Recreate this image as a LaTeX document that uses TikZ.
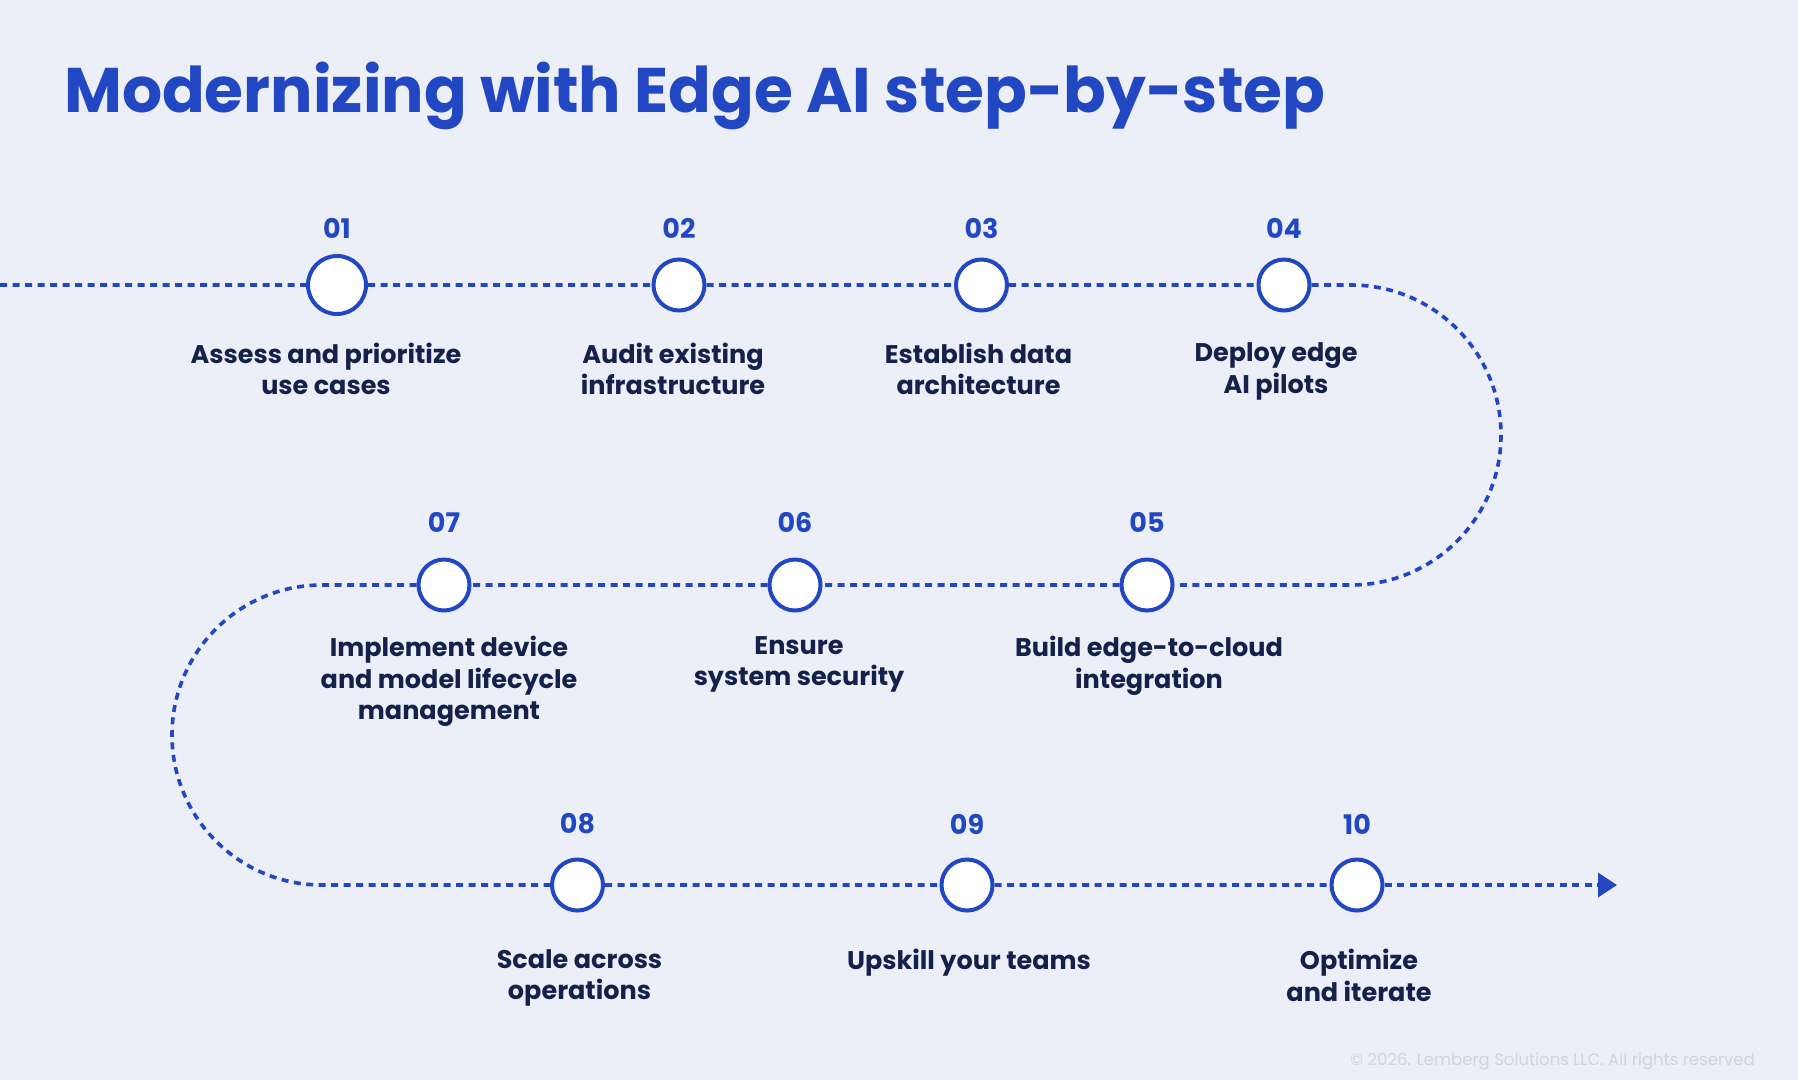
\documentclass[tikz,border=0pt]{standalone}
\usepackage{fontspec}
\setmainfont{Poppins}
\usetikzlibrary{positioning,arrows.meta}

\definecolor{pagebg}{HTML}{ECEEF8}
\definecolor{edgeblue}{HTML}{2247C2}
\definecolor{inkblue}{HTML}{14214B}
\definecolor{notegray}{HTML}{D0D3E0}

\tikzset{
  stepdot/.style={circle,draw=edgeblue,fill=white,line width=4pt,minimum size=51pt,inner sep=0pt},
  stepnum/.style={text=edgeblue,inner sep=0pt,font=\fontsize{27}{27}\selectfont\bfseries},
  steptext/.style={text=inkblue,inner sep=0pt,align=center,font=\fontsize{25.5}{31.5}\selectfont\bfseries},
  track/.style={draw=edgeblue,line width=3.6pt,dash pattern=on 7pt off 5.5pt},
}

\begin{document}
\begin{tikzpicture}[x=1pt,y=-1pt]
\fill[pagebg] (0,0) rectangle (1798,1080);
\useasboundingbox (0,0) rectangle (1798,1080);

% title
\node[anchor=base west,inner sep=0pt,text=edgeblue,font=\fontsize{63}{63}\selectfont\bfseries] (title) at (64,112.7) {Modernizing with Edge AI step-by-step};

% first row
\node[stepdot,minimum size=58pt] (c1) at (337,285) {};
\node[stepdot] (c2) at (679,285) {};
\node[stepdot] (c3) at (981.5,285) {};
\node[stepdot] (c4) at (1284,285) {};
\node[stepnum,above=15pt of c1] (n1) {01};
\node[stepnum,above=18.5pt of c2] (n2) {02};
\node[stepnum,above=18.5pt of c3] (n3) {03};
\node[stepnum,above=18.5pt of c4] (n4) {04};
\node[steptext,below=26.5pt of c1,xshift=-11pt] (t1) {Assess and prioritize\\use cases};
\node[steptext,below=30pt of c2,xshift=-6pt] (t2) {Audit existing\\infrastructure};
\node[steptext,below=30pt of c3,xshift=-3pt] (t3) {Establish data\\architecture};
\node[steptext,below=30pt of c4,xshift=-8pt] (t4) {Deploy edge\\AI pilots};

% second row
\node[stepdot] (c5) at (1147,585) {};
\node[stepdot] (c6) at (795,585) {};
\node[stepdot] (c7) at (444,585) {};
\node[stepnum,above=25pt of c5] (n5) {05};
\node[stepnum,above=25pt of c6] (n6) {06};
\node[stepnum,above=25pt of c7] (n7) {07};
\node[steptext,below=23.5pt of c5,xshift=2pt] (t5) {Build edge-to-cloud\\integration};
\node[steptext,below=23.5pt of c6,xshift=4pt] (t6) {Ensure\\system security};
\node[steptext,below=23.5pt of c7,xshift=5pt] (t7) {Implement device\\and model lifecycle\\management};

% third row
\node[stepdot] (c8) at (577.5,885) {};
\node[stepdot] (c9) at (967,885) {};
\node[stepdot] (c10) at (1357,885) {};
\node[stepnum,above=23pt of c8] (n8) {08};
\node[stepnum,above=23pt of c9] (n9) {09};
\node[stepnum,above=23pt of c10] (n10) {10};
\node[steptext,below=36.5pt of c8,xshift=2pt] (t8) {Scale across\\operations};
\node[steptext,below=36.5pt of c9,xshift=2pt] (t9) {Upskill your teams};
\node[steptext,below=36.5pt of c10,xshift=2pt] (t10) {Optimize\\and iterate};

% dotted track
\coordinate (start) at (0,285);
\coordinate (tip) at (1617,885);
\draw[track] (start) -- (c1) -- (c2) -- (c3) -- (c4) -- (1351,285)
  arc[start angle=90,end angle=-90,radius=150pt] -- (c5) -- (c6) -- (c7) -- (322,585)
  arc[start angle=90,end angle=270,radius=150pt] -- (c8) -- (c9) -- (c10);
\draw[track,-{Triangle[length=19pt,width=24pt]}] (c10) -- (tip);

\node[anchor=base east,inner sep=0pt,text=notegray,font=\fontsize{16.5}{16.5}\selectfont] (note) at (1755,1065) {© 2026. Lemberg Solutions LLC. All rights reserved};
\end{tikzpicture}
\end{document}
